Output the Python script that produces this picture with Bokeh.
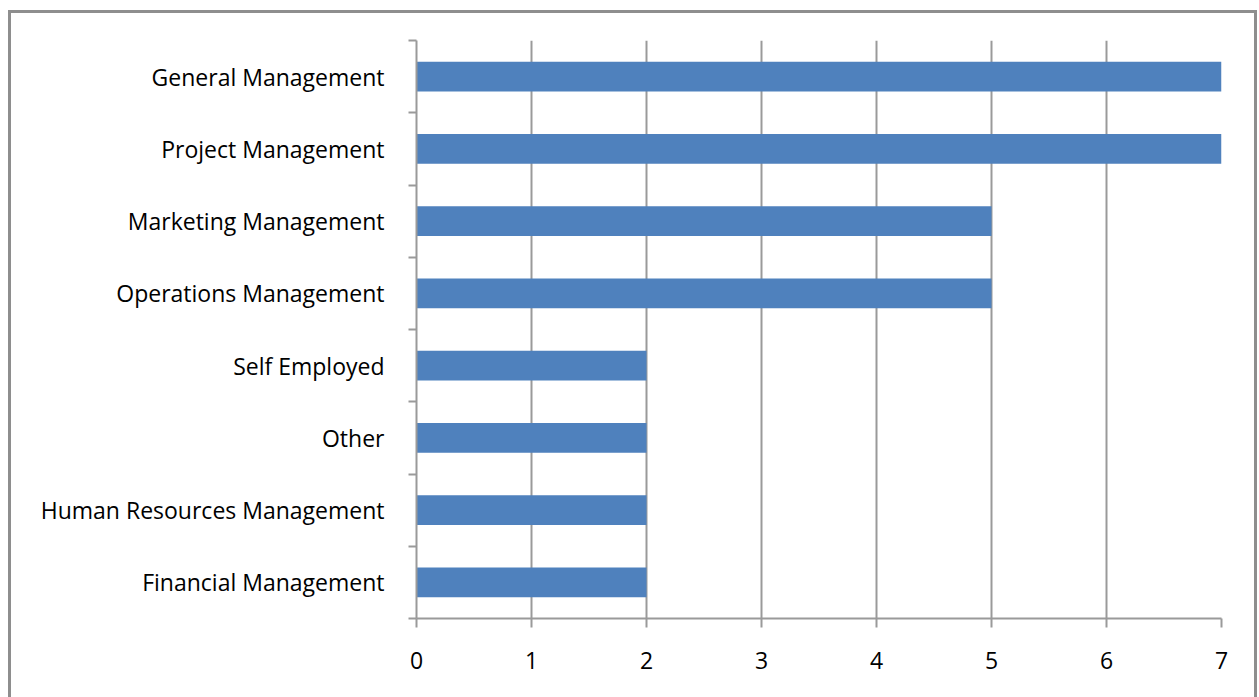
from bokeh.plotting import figure
from bokeh.models import FixedTicker, Range1d, InlineStyleSheet
from bokeh.embed import file_html
from bokeh.resources import INLINE

categories = ["Financial Management", "Human Resources Management", "Other", "Self Employed",
              "Operations Management", "Marketing Management", "Project Management", "General Management"]
values = [2, 2, 2, 2, 5, 5, 7, 7]
x_ticks = [0, 1, 2, 3, 4, 5, 6, 7]

centers = [i + 0.5 for i in range(len(categories))]
bounds = [i for i in range(len(categories) + 1)]

FONT = "Open Sans"
GRAY = "#9a9a9a"

border_css = InlineStyleSheet(css="""
:host::after {
  content: '';
  position: absolute;
  left: 8px; top: 10px; right: -6px; bottom: -8px;
  border: 3px solid #8e8e8e;
  border-bottom: none;
  box-sizing: border-box;
  pointer-events: none;
}
""")

p = figure(width=1251, height=689, output_backend="svg", toolbar_location=None,
           x_range=Range1d(0, 7), y_range=Range1d(0, len(categories)),
           min_border_left=416, min_border_right=30, min_border_top=40, min_border_bottom=71)
p.stylesheets = [border_css]
p.outline_line_color = None
p.background_fill_color = "white"
p.border_fill_color = "white"

p.hbar(y=centers, right=values, left=0, height=0.41, color="#4f81bd", line_color=None)

# x axis
p.xaxis.ticker = FixedTicker(ticks=x_ticks)
p.xaxis.axis_line_color = GRAY
p.xaxis.axis_line_width = 2
p.xaxis.major_tick_line_color = GRAY
p.xaxis.major_tick_line_width = 2
p.xaxis.major_tick_in = 0
p.xaxis.major_tick_out = 9
p.xaxis.minor_tick_line_color = None
p.xaxis.major_label_text_font = FONT
p.xaxis.major_label_text_font_size = "23px"
p.xaxis.major_label_text_color = "black"
p.xaxis.major_label_standoff = 24

# y axis
p.yaxis.ticker = FixedTicker(ticks=centers, minor_ticks=bounds)
p.yaxis.major_label_overrides = {c: name for c, name in zip(centers, categories)}
p.yaxis.axis_line_color = GRAY
p.yaxis.axis_line_width = 2
p.yaxis.major_tick_line_color = None
p.yaxis.major_tick_in = 0
p.yaxis.major_tick_out = 0
p.yaxis.minor_tick_line_color = GRAY
p.yaxis.minor_tick_line_width = 2
p.yaxis.minor_tick_in = 0
p.yaxis.minor_tick_out = 8
p.yaxis.major_label_text_font = FONT
p.yaxis.major_label_text_font_size = "23px"
p.yaxis.major_label_text_color = "black"
p.yaxis.major_label_standoff = 24

p.xgrid.ticker = FixedTicker(ticks=x_ticks)
p.xgrid.grid_line_color = GRAY
p.xgrid.grid_line_width = 2
p.ygrid.grid_line_color = None

open("out.html", "w").write(file_html(p, INLINE))
